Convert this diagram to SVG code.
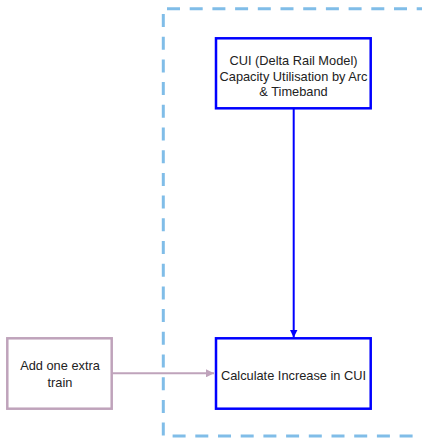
<svg xmlns="http://www.w3.org/2000/svg" width="422" height="438" viewBox="0 0 422 438">
<style>
text{font-family:"Liberation Sans",Arial,sans-serif;font-size:12.8px;fill:#222;text-anchor:middle}
.blue{fill:#fff;stroke:#0000ff;stroke-width:2.5}
.mauve{fill:#fff;stroke:#bfa3bb;stroke-width:2.5}
</style>
<defs>
<marker id="ab" viewBox="0 0 10 10" refX="10" refY="5" markerWidth="4" markerHeight="4" orient="auto" markerUnits="strokeWidth"><path d="M0,0L10,5L0,10z" fill="#0000ff"/></marker>
<marker id="am" viewBox="0 0 10 10" refX="10" refY="5" markerWidth="4" markerHeight="4" orient="auto" markerUnits="strokeWidth"><path d="M0,0L10,5L0,10z" fill="#bfa3bb"/></marker>
</defs>
<g id="boundary">
<path d="M167,8.7H430M163.3,14V436H430" fill="none" stroke="#80bde8" stroke-width="3" stroke-dasharray="13 9.7"/>
</g>
<g id="connectors">
<line x1="293.7" y1="108" x2="293.7" y2="337.5" stroke="#0000ff" stroke-width="2" marker-end="url(#ab)"/>
<line x1="112" y1="373.3" x2="214" y2="373.3" stroke="#bfa3bb" stroke-width="2" marker-end="url(#am)"/>
</g>
<g id="cui">
<rect class="blue" x="216" y="38.3" width="154.7" height="70"/>
<text x="293.5" y="64.5">CUI (Delta Rail Model)</text>
<text x="293.5" y="80.5">Capacity Utilisation by Arc</text>
<text x="293.5" y="95.5">&amp; Timeband</text>
</g>
<g id="calc">
<rect class="blue" x="216" y="338.3" width="154.7" height="70.4"/>
<text x="293.5" y="379.5">Calculate Increase in CUI</text>
</g>
<g id="extra">
<rect class="mauve" x="7.3" y="338.3" width="104.4" height="70.4"/>
<text x="60" y="370">Add one extra</text>
<text x="60" y="386.5">train</text>
</g>
</svg>
